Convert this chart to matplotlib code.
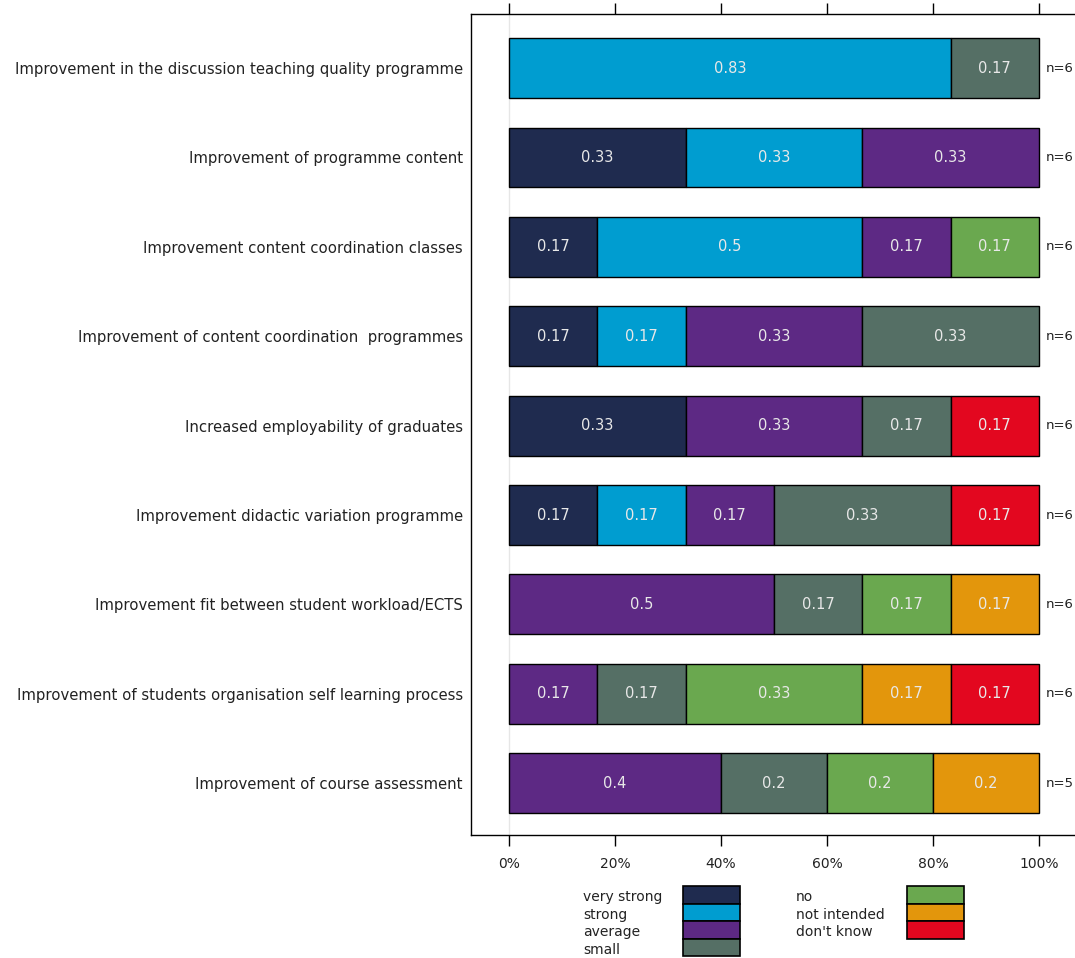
import matplotlib.pyplot as plt
import numpy as np
from matplotlib.patches import Rectangle

# categories, top to bottom
items = [
    "Improvement in the discussion teaching quality programme",
    "Improvement of programme content",
    "Improvement content coordination classes",
    "Improvement of content coordination  programmes",
    "Increased employability of graduates",
    "Improvement didactic variation programme",
    "Improvement fit between student workload/ECTS",
    "Improvement of students organisation self learning process",
    "Improvement of course assessment",
]
levels = ["very strong", "strong", "average", "small", "no", "not intended", "don't know"]
colors = ["#1f2b4f", "#009dd0", "#5d2984", "#556f65", "#6aa84f", "#e3960c", "#e3071f"]

# answer counts per level (same order as levels)
counts = [
    [0, 5, 0, 1, 0, 0, 0],
    [2, 2, 2, 0, 0, 0, 0],
    [1, 3, 1, 0, 1, 0, 0],
    [1, 1, 2, 2, 0, 0, 0],
    [2, 0, 2, 1, 0, 0, 1],
    [1, 1, 1, 2, 0, 0, 1],
    [0, 0, 3, 1, 1, 1, 0],
    [0, 0, 1, 1, 2, 1, 1],
    [0, 0, 2, 1, 1, 1, 0],
]
n_resp = [6, 6, 6, 6, 6, 6, 6, 6, 5]

fig = plt.figure(figsize=(10.75, 9.58), dpi=100)
ax = fig.add_axes([471 / 1075, 1 - 835 / 958, 1 - 471 / 1075, (835 - 14) / 958])

y = np.arange(len(items))
left = np.zeros(len(items))
for j, lev in enumerate(levels):
    vals = np.array([c[j] / n for c, n in zip(counts, n_resp)])
    keep = vals > 0
    ax.barh(y[keep], vals[keep], left=left[keep], height=0.67, color=colors[j],
            edgecolor="black", linewidth=1, zorder=3)
    for i, v in enumerate(vals):
        if v > 0:
            ax.text(left[i] + v / 2, y[i], f"{round(v, 2):g}", ha="center",
                    va="center", color="#e8e8e8", fontsize=10.5, zorder=4)
    left += vals

for i, n in enumerate(n_resp):
    ax.text(1.012, y[i], f"n={n}", ha="left", va="center", fontsize=9.5,
            color="#222222")

ax.axvline(0, color="#e6e6e6", linewidth=1, zorder=1)

ax.set_xlim(-38 / 530, (1075 - 509) / 530)
ax.set_ylim(8.58, -0.605)
ax.set_yticks(y)
ax.set_yticklabels(items, fontsize=10.7, color="#222222")
ax.tick_params(axis="y", length=0, pad=6)
ax.set_xticks(np.linspace(0, 1, 6))
ax.set_xticklabels([f"{int(t)}%" for t in np.linspace(0, 100, 6)], fontsize=10,
                   color="#222222")
ax.tick_params(axis="x", top=True, direction="out", length=8, width=1, pad=8)
ax.spines["right"].set_visible(False)
for s in ["left", "top", "bottom"]:
    ax.spines[s].set_linewidth(1)

# legend drawn in pixel space below the chart
lg = fig.add_axes([560 / 1075, 0, 440 / 1075, 80 / 958])
lg.set_xlim(560, 1000)
lg.set_ylim(958, 878)
lg.axis("off")
row_h = 17.6
blocks = [(levels[:4], colors[:4], 583, 683), (levels[4:], colors[4:], 796, 907)]
for labs, cols, tx, bx in blocks:
    for k, (lab, col) in enumerate(zip(labs, cols)):
        top = 886 + k * row_h
        lg.add_patch(Rectangle((bx, top), 57, row_h, facecolor=col,
                               edgecolor="black", linewidth=1.2, clip_on=False))
        lg.text(tx, top + 11, lab, ha="left", va="center", fontsize=10,
                color="#222222")

fig.savefig("out.png", dpi=100)
